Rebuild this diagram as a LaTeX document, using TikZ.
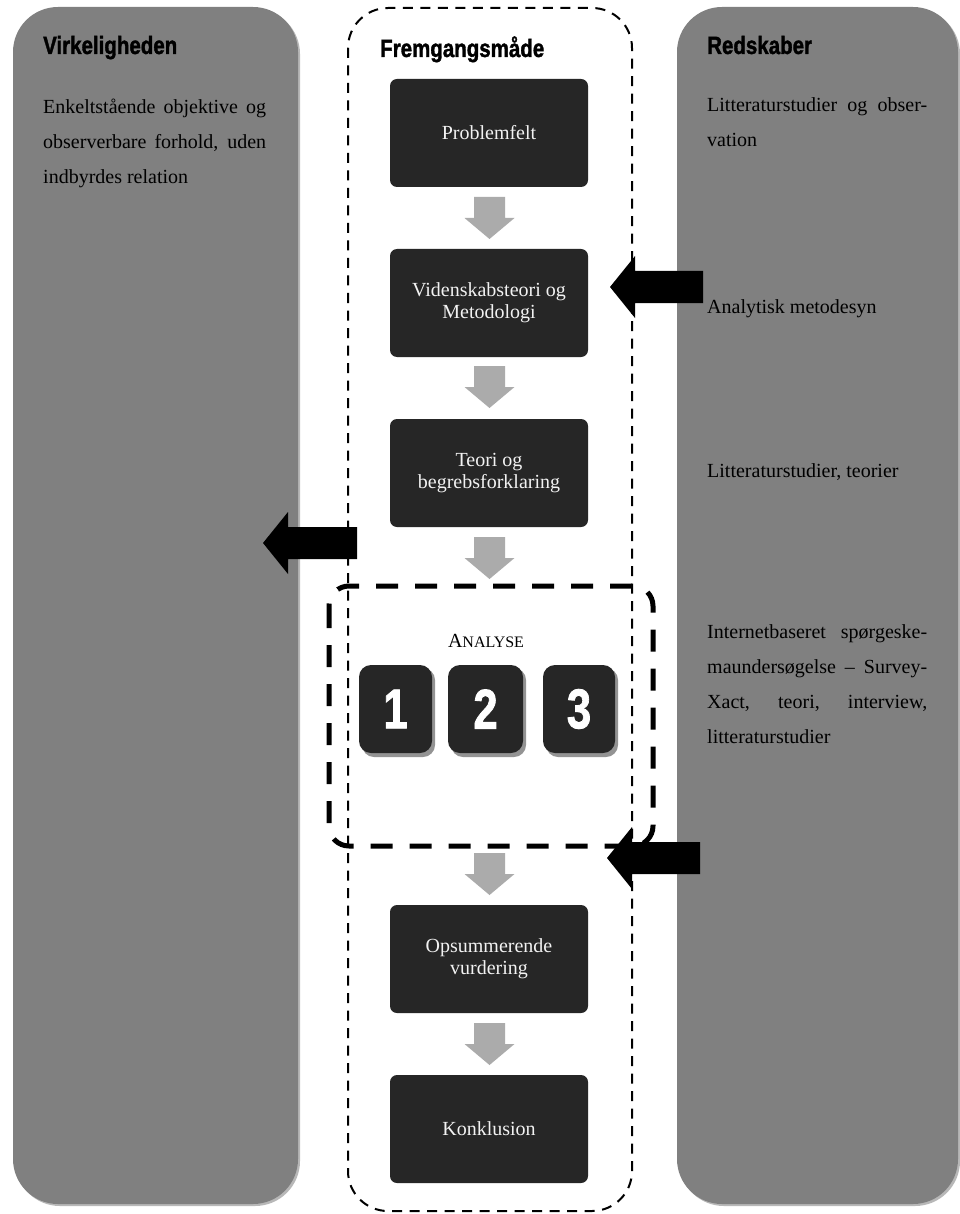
\documentclass[tikz,border=0pt]{standalone}
\usepackage{fontspec}
\usepackage{graphicx}
\setmainfont{Liberation Serif}
\newfontfamily\headfont{Liberation Sans}[BoldFeatures={FakeBold=1.6}]
\definecolor{panelgrey}{HTML}{808080}
\definecolor{shadowgrey}{HTML}{B8B8B8}
\definecolor{boxdark}{HTML}{262626}
\definecolor{boxtext}{HTML}{F2F2F2}
\definecolor{arrowgrey}{HTML}{ABABAB}
\newcommand\ttl[1]{\scalebox{0.82}[1]{\headfont\bfseries\fontsize{25}{25}\selectfont #1}}
\newcommand\digit[1]{\scalebox{0.78}[1]{\headfont\bfseries\fontsize{56}{56}\selectfont #1}}
\begin{document}
\begin{tikzpicture}[x=1pt,y=-1pt,
  panel/.style={fill=panelgrey,draw=none,rounded corners=45pt},
  panelshadow/.style={fill=shadowgrey,draw=none,rounded corners=45pt},
  stepbox/.style={fill=boxdark,draw=none,rounded corners=7pt,minimum width=198pt,minimum height=108pt,inner sep=0pt,text=boxtext,align=center,font=\fontsize{20}{22}\selectfont},
  numbox/.style={fill=boxdark,draw=none,rounded corners=12pt,minimum width=73pt,minimum height=88pt,inner sep=0pt,text=white},
  numshadow/.style={fill=shadowgrey!80!black,draw=none,rounded corners=12pt},
  bodytext/.style={anchor=base west,inner sep=0pt,font=\fontsize{20}{35}\selectfont,text=black},
  titletext/.style={anchor=base west,inner sep=0pt,text=black},
  outline/.style={draw=black,line width=2pt,dash pattern=on 10pt off 7.5pt,rounded corners=40pt},
  analysebox/.style={draw=black,line width=5pt,dash pattern=on 22pt off 17pt,rounded corners=20pt},
  pics/garrow/.style={code={\fill[arrowgrey] (-15.5,0) -- (15.5,0) -- (15.5,21) -- (25,21) -- (0,42) -- (-25,21) -- (-15.5,21) -- cycle;}},
  pics/blkarrow/.style={code={\fill[black] (0,0) -- (25,-31) -- (25,-16) -- (#1,-16) -- (#1,16) -- (25,16) -- (25,31) -- cycle;}}
]
\useasboundingbox (0,0) rectangle (959,1214);
\fill[white] (0,0) rectangle (959,1214);

% side panels
\fill[panelshadow] (15,9) rectangle (300,1206);
\fill[panel] (13,7) rectangle (298,1204);
\fill[panelshadow] (679,9) rectangle (960,1206);
\fill[panel] (677,7) rectangle (958,1204);

% centre outline
\draw[outline] (348,8) rectangle (632,1211);

% titles
\node[titletext] (tv) at (43,54) {\ttl{Virkeligheden}};
\node[titletext] (tf) at (380,57) {\ttl{Fremgangsmåde}};
\node[titletext] (tr) at (707,54) {\ttl{Redskaber}};

% left text
\node[bodytext] (l1) at (43,114) {\makebox[223pt][s]{Enkeltstående objektive og}};
\node[bodytext] (l2) at (43,149) {\makebox[223pt][s]{observerbare forhold, uden}};
\node[bodytext] (l3) at (43,184) {indbyrdes relation};

% right texts
\node[bodytext] (r1) at (707,112) {\makebox[220pt][s]{Litteraturstudier og obser-}};
\node[bodytext] (r2) at (707,147) {vation};
\node[bodytext] (r3) at (707,313) {Analytisk metodesyn};
\node[bodytext] (r4) at (707,477) {Litteraturstudier, teorier};
\node[bodytext] (r5) at (707,638) {\makebox[220pt][s]{Internetbaseret spørgeske-}};
\node[bodytext] (r6) at (707,673) {\makebox[220pt][s]{maundersøgelse – Survey-}};
\node[bodytext] (r7) at (707,708) {\makebox[220pt][s]{Xact, teori, interview,}};
\node[bodytext] (r8) at (707,743) {litteraturstudier};

% process boxes
\node[stepbox] (b1) at (489,133) {Problemfelt};
\node[stepbox] (b2) at (489,303) {Videnskabsteori og\\Metodologi};
\node[stepbox] (b3) at (489,473) {Teori og\\begrebsforklaring};
\node[stepbox] (b4) at (489,959) {Opsummerende\\vurdering};
\node[stepbox] (b5) at (489,1129) {Konklusion};

% grey arrows
\coordinate (g1) at (489.5,197);
\coordinate (g2) at (489.5,366);
\coordinate (g3) at (489.5,537);
\coordinate (g4) at (489.5,853);
\coordinate (g5) at (489.5,1023);
\pic at (g1) {garrow};
\pic at (g2) {garrow};
\pic at (g3) {garrow};
\pic at (g4) {garrow};
\pic at (g5) {garrow};

% analyse
\node[anchor=base,inner sep=0pt] (an) at (486,647) {\fontsize{20}{20}\selectfont A\fontsize{16}{16}\selectfont NALYSE};
\fill[numshadow] (362,668) rectangle (435,757);
\fill[numshadow] (451,668) rectangle (526,757);
\fill[numshadow] (546,668) rectangle (618,757);
\node[numbox] (n1) at (395.5,709) {\digit{1}};
\node[numbox,minimum width=75pt] (n2) at (485.5,709) {\digit{2}};
\node[numbox,minimum width=72pt] (n3) at (579,709) {\digit{3}};
\draw[analysebox] (329,586) rectangle (653,846);

% black arrows
\coordinate (k1) at (610,287);
\coordinate (k2) at (263,543);
\coordinate (k3) at (607,858);
\pic at (k1) {blkarrow=93};
\pic at (k2) {blkarrow=94};
\pic at (k3) {blkarrow=93};
\end{tikzpicture}
\end{document}
